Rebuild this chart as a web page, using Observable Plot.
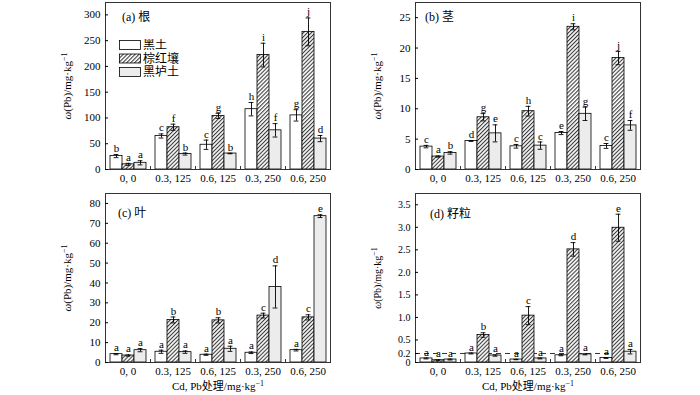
<!DOCTYPE html>
<html><head><meta charset="utf-8">
<script src="https://cdn.jsdelivr.net/npm/d3@7"></script>
<script src="https://cdn.jsdelivr.net/npm/@observablehq/plot@0.6"></script>
<style>
body{margin:0;background:#fff;}
#wrap{position:relative;width:700px;height:395px;font-family:"Liberation Serif","Noto Sans CJK SC",serif;color:#000;}
.title{position:absolute;font-size:12px;line-height:12px;white-space:nowrap;}
</style></head><body>
<svg width="0" height="0" style="position:absolute">
  <defs>
    <pattern id="hatch" patternUnits="userSpaceOnUse" width="2.8" height="2.8" patternTransform="rotate(45)">
      <rect width="2.8" height="2.8" fill="#fff"></rect>
      <line x1="0.6" y1="0" x2="0.6" y2="2.8" stroke="#000" stroke-width="0.85"></line>
    </pattern>
  </defs>
</svg>
<div id="wrap"></div>
<script>
const groups = ["0, 0", "0.3, 125", "0.6, 125", "0.3, 250", "0.6, 250"];
const soils = ["黑土", "棕红壤", "黑垆土"];
const soilFills = ["#ffffff", "url(#hatch)", "#ececec"];

// (a) 根 root — rows: 黑土, 棕红壤, 黑垆土
const rootMean = [[26, 65, 48, 117, 105], [10, 82, 104, 222, 267], [13, 30, 31, 76, 60]];
const rootErr  = [[3, 4, 9, 13, 11], [2, 6, 5, 23, 27], [4, 2, 0.5, 13, 6]];
const rootSig  = [["b","c","c","h","g"], ["a","f","g","i","j"], ["a","b","b","f","d"]];
const rootTicks = [0, 50, 100, 150, 200, 250, 300];

// (b) 茎 stem
const stemMean = [[3.77, 4.7, 3.82, 6.0, 3.88], [2.13, 8.6, 9.6, 23.5, 18.35], [2.73, 5.95, 3.93, 9.17, 7.26]];
const stemErr  = [[0.2, 0.08, 0.3, 0.25, 0.4], [0.1, 0.6, 0.8, 0.5, 1.1], [0.2, 1.4, 0.6, 1.1, 0.8]];
const stemSig  = [["c","d","c","e","c"], ["a","g","h","i","j"], ["b","e","c","g","f"]];
const stemTicks = [0, 5, 10, 15, 20, 25];

// (c) 叶 leaf
const leafMean = [[4.2, 5.4, 3.9, 4.9, 6.2], [3.5, 21.4, 21.2, 23.6, 22.7], [6.2, 5.2, 6.9, 38.0, 73.6]];
const leafErr  = [[0.3, 0.8, 0.3, 0.4, 0.4], [0.3, 1.5, 1.3, 1.2, 1.3], [0.8, 0.6, 1.3, 10.6, 0.7]];
const leafSig  = [["a","a","a","a","a"], ["a","b","b","c","c"], ["a","a","a","d","e"]];
const leafTicks = [0, 10, 20, 30, 40, 50, 60, 70, 80];

// (d) 籽粒 grain
const grainMean = [[0.09, 0.2, 0.066, 0.16, 0.1], [0.05, 0.61, 1.04, 2.51, 2.99], [0.066, 0.155, 0.09, 0.18, 0.24]];
const grainErr  = [[0.01, 0.01, 0.005, 0.01, 0.01], [0.01, 0.05, 0.2, 0.15, 0.3], [0.01, 0.015, 0.01, 0.01, 0.05]];
const grainSig  = [["a","a","a","a","a"], ["a","b","c","d","e"], ["a","a","a","a","a"]];
const grainTicks = [0, 0.2, 0.5, 1.0, 1.5, 2.0, 2.5, 3.0, 3.5];
const grainLimit = [0.2];

const panelTitles = ["(a) 根", "(b) 茎", "(c) 叶", "(d) 籽粒"];
const yLabel = "ω(Pb)/mg·kg-1";
const xLabel = "Cd, Pb处理/mg·kg-1";

const wrap = document.getElementById("wrap");
const FONT = '"Liberation Serif", "Noto Sans CJK SC", serif';

function superLabel(textEl, italicFirst) {
  if (!textEl) return;
  const t = textEl.textContent.replace(/[\s↑→←↓]+$/g, "");
  const base = t.replace(/-1$/, "");
  textEl.textContent = "";
  const ns = "http://www.w3.org/2000/svg";
  let rest = base;
  if (italicFirst) {
    const s = document.createElementNS(ns, "tspan");
    s.setAttribute("font-style", "italic");
    s.textContent = base[0];
    textEl.appendChild(s);
    rest = base.slice(1);
  }
  const m = document.createElementNS(ns, "tspan");
  m.textContent = rest;
  textEl.appendChild(m);
  const sup = document.createElementNS(ns, "tspan");
  sup.setAttribute("dy", "-4");
  sup.setAttribute("font-size", "8");
  sup.textContent = "−1";
  textEl.appendChild(sup);
}

function panel({means, errs, sigs, max, ticks, fmt, left, top, height, marginTop, marginBottom, withXLabel, limit, tickFont = 11}) {
  const rows = [];
  soils.forEach((s, i) => groups.forEach((g, j) => rows.push({group: g, soil: s, v: means[i][j], e: errs[i][j], sig: sigs[i][j]})));
  const plotH = height - marginTop - marginBottom;
  const marks = [];
  if (limit) marks.push(Plot.ruleY(limit, {stroke: "#000", strokeWidth: 0.8, strokeDasharray: "5,4"}));
  soils.forEach((s, i) => {
    marks.push(Plot.barY(rows.filter(d => d.soil === s), {fx: "group", x: "soil", y: "v", fill: soilFills[i], stroke: "#000", strokeWidth: 0.8}));
  });
  marks.push(
    Plot.ruleX(rows, {fx: "group", x: "soil", y1: d => d.v - d.e, y2: d => d.v + d.e, stroke: "#000", strokeWidth: 0.9}),
    Plot.tickY(rows, {fx: "group", x: "soil", y: d => d.v + d.e, insetLeft: 3.6, insetRight: 3.6, stroke: "#000", strokeWidth: 0.9}),
    Plot.tickY(rows, {fx: "group", x: "soil", y: d => d.v - d.e, insetLeft: 3.6, insetRight: 3.6, stroke: "#000", strokeWidth: 0.9}),
    Plot.text(rows, {fx: "group", x: "soil", y: d => d.v + d.e, text: "sig", dy: -6, fontSize: 11}),
    Plot.frame({anchor: "left", insetTop: plotH - 3, stroke: "#000", strokeWidth: 0.8}),
    Plot.frame({facet: "super", stroke: "#333", strokeWidth: 1}),
    Plot.axisY({ticks, tickFormat: fmt, tickSize: -3, tickPadding: 8, fontSize: tickFont, label: yLabel, labelAnchor: "center", labelArrow: "none", labelOffset: 42}),
    Plot.axisFx({anchor: "bottom", tickSize: 0, tickPadding: 5, fontSize: 11, label: withXLabel ? xLabel : null, labelAnchor: "center", labelArrow: "none", labelOffset: 27})
  );
  const svg = Plot.plot({
    width: 340, height, marginLeft: 104, marginRight: 9, marginTop, marginBottom,
    style: {fontFamily: FONT, fontSize: "11px", background: "transparent", color: "#000"},
    fx: {domain: groups, padding: 0},
    x: {domain: soils, paddingInner: 0, paddingOuter: 0.35, axis: null},
    y: {domain: [0, max]},
    marks
  });
  svg.style.position = "absolute";
  svg.style.left = left + "px";
  svg.style.top = top + "px";
  svg.querySelectorAll('[aria-label="y-axis label"] text').forEach(t => superLabel(t, true));
  svg.querySelectorAll('[aria-label="fx-axis label"] text').forEach(t => superLabel(t, false));
  wrap.appendChild(svg);
}

const f0 = d => d === 0 ? "0" : d3.format(".1f")(d);
panel({means: rootMean, errs: rootErr, sigs: rootSig, max: 324, ticks: rootTicks, fmt: d => String(d), left: 0, top: 0, height: 190, marginTop: 2, marginBottom: 21});
panel({means: stemMean, errs: stemErr, sigs: stemSig, max: 27.5, ticks: stemTicks, fmt: d => String(d), left: 310, top: 0, height: 190, marginTop: 2, marginBottom: 21});
panel({means: leafMean, errs: leafErr, sigs: leafSig, max: 85, ticks: leafTicks, fmt: d => String(d), left: 0, top: 190, height: 205, marginTop: 3, marginBottom: 33, withXLabel: true});
panel({means: grainMean, errs: grainErr, sigs: grainSig, max: 3.75, ticks: grainTicks, fmt: f0, left: 310, top: 190, height: 205, marginTop: 3, marginBottom: 33, withXLabel: true, limit: grainLimit, tickFont: 10});

// panel titles
const titlePos = [[122, 11], [425, 11], [118, 207], [430, 208]];
panelTitles.forEach((t, i) => {
  const d = document.createElement("div");
  d.className = "title";
  d.style.left = titlePos[i][0] + "px";
  d.style.top = titlePos[i][1] + "px";
  d.textContent = t;
  wrap.appendChild(d);
});

// legend in panel (a)
const lg = d3.create("svg").attr("width", 80).attr("height", 44)
  .style("position", "absolute").style("left", "118px").style("top", "39px")
  .style("font-family", FONT).style("font-size", "12px");
soils.forEach((s, i) => {
  lg.append("rect").attr("x", 1.5).attr("y", 1.5 + i * 13.5).attr("width", 21).attr("height", 9)
    .attr("fill", soilFills[i]).attr("stroke", "#000").attr("stroke-width", 0.8);
  lg.append("text").attr("x", 25).attr("y", 6 + i * 13.5).attr("dy", "0.36em").text(s);
});
wrap.appendChild(lg.node());
</script>
</body></html>
